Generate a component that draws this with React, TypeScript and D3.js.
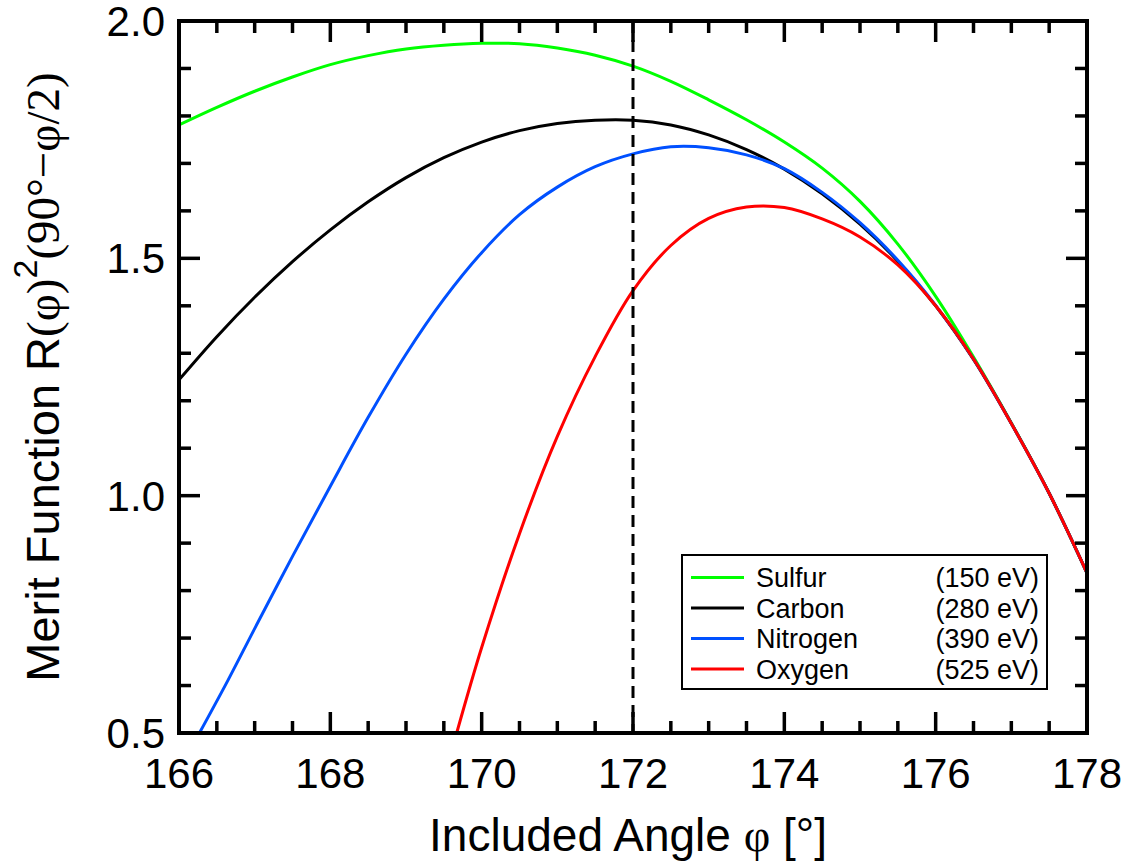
import React from "react";
import * as d3 from "d3";

// Included angle grid (degrees) shared by the Sulfur and Carbon curves
const ANGLE_GRID = [
  166, 166.5, 167, 167.5, 168, 168.5, 169, 169.5, 170, 170.5, 171, 171.5, 172,
  172.5, 173, 173.5, 174, 174.5, 175, 175.5, 176, 176.5, 177, 177.5, 178,
];
const SULFUR = [
  1.781, 1.818, 1.852, 1.882, 1.908, 1.927, 1.941, 1.949, 1.953, 1.952, 1.943,
  1.928, 1.905, 1.873, 1.834, 1.792, 1.745, 1.69, 1.62, 1.53, 1.42, 1.292,
  1.153, 1.005, 0.837,
];
const CARBON = [
  1.244, 1.335, 1.418, 1.493, 1.56, 1.619, 1.67, 1.712, 1.745, 1.769, 1.784,
  1.791, 1.791, 1.781, 1.76, 1.729, 1.688, 1.636, 1.572, 1.494, 1.4, 1.287,
  1.152, 1.005, 0.837,
];
const NITROGEN_ANGLES = [
  166.27, 166.65, 167, 167.5, 168, 168.5, 169, 169.5, 170, 170.5, 171, 171.5,
  172, 172.5, 173, 173.5, 174, 174.5, 175, 175.5, 176, 176.5, 177, 177.5, 178,
];
const NITROGEN = [
  0.5, 0.612, 0.72, 0.872, 1.02, 1.165, 1.298, 1.414, 1.512, 1.592, 1.65,
  1.693, 1.72, 1.735, 1.733, 1.718, 1.689, 1.639, 1.575, 1.496, 1.401, 1.288,
  1.152, 1.005, 0.837,
];
const OXYGEN_ANGLES = [
  169.67, 170, 170.5, 171, 171.5, 172, 172.5, 173, 173.5, 174, 174.5, 175,
  175.5, 176, 176.5, 177, 177.5, 178,
];
const OXYGEN = [
  0.5, 0.68, 0.92, 1.125, 1.293, 1.432, 1.527, 1.584, 1.608, 1.607, 1.583,
  1.545, 1.486, 1.4, 1.288, 1.152, 1.005, 0.837,
];

const SERIES_NAMES = ["Sulfur", "Carbon", "Nitrogen", "Oxygen"];
const SERIES_ENERGIES = ["(150 eV)", "(280 eV)", "(390 eV)", "(525 eV)"];
const SERIES_COLORS = ["#00ff00", "#000000", "#0050ff", "#ff0000"];

const X_TICKS = [166, 168, 170, 172, 174, 176, 178];
const Y_TICKS = [0.5, 1.0, 1.5, 2.0];
const MARKED_ANGLE = 172;

const W = 1134;
const H = 864;
const PLOT = { left: 179, right: 1087, top: 21, bottom: 733 };
const SANS = "'Liberation Sans', Arial, Helvetica, sans-serif";
const SERIF = "'Liberation Serif', 'Times New Roman', serif";

export default function App() {
  const x = d3.scaleLinear().domain([166, 178]).range([PLOT.left, PLOT.right]);
  const y = d3.scaleLinear().domain([0.5, 2.0]).range([PLOT.bottom, PLOT.top]);

  const line = d3
    .line<[number, number]>()
    .x((d) => x(d[0]))
    .y((d) => y(d[1]))
    .curve(d3.curveCatmullRom.alpha(0.5));

  const series = [
    ANGLE_GRID.map((a, i) => [a, SULFUR[i]] as [number, number]),
    ANGLE_GRID.map((a, i) => [a, CARBON[i]] as [number, number]),
    NITROGEN_ANGLES.map((a, i) => [a, NITROGEN[i]] as [number, number]),
    OXYGEN_ANGLES.map((a, i) => [a, OXYGEN[i]] as [number, number]),
  ];

  const xMinor = d3.range(166, 178.0001, 0.5);
  const yMinor = d3.range(0.5, 2.0001, 0.1);
  const isMajorX = (v: number) => Math.abs(v / 2 - Math.round(v / 2)) < 1e-6;
  const isMajorY = (v: number) => Math.abs(v * 2 - Math.round(v * 2)) < 1e-6;
  const MAJ = 21;
  const MIN = 12;

  const legend = { left: 682, top: 555, right: 1047, bottom: 689 };
  const rowY = (i: number) => 577.5 + i * 30.5;

  return (
    <svg
      width={W}
      height={H}
      style={{ position: "absolute", left: 0, top: 0, display: "block", background: "#fff" }}
      fontFamily={SANS}
    >
      <defs>
        <clipPath id="plot-clip">
          <rect
            x={PLOT.left}
            y={PLOT.top}
            width={PLOT.right - PLOT.left}
            height={PLOT.bottom - PLOT.top}
          />
        </clipPath>
      </defs>

      {/* curves */}
      <g clipPath="url(#plot-clip)" fill="none" strokeWidth={3} strokeLinejoin="round">
        {series.map((pts, i) => (
          <path key={i} d={line(pts) || ""} stroke={SERIES_COLORS[i]} />
        ))}
      </g>

      {/* reference angle */}
      <line
        x1={x(MARKED_ANGLE)}
        x2={x(MARKED_ANGLE)}
        y1={PLOT.top}
        y2={PLOT.bottom}
        stroke="#000"
        strokeWidth={3}
        strokeDasharray="12 7"
      />

      {/* ticks on all four sides, pointing inward */}
      <g stroke="#000" strokeWidth={3.5}>
        {xMinor.map((v, i) => {
          const len = isMajorX(v) ? MAJ : MIN;
          return (
            <g key={"xt" + i}>
              <line x1={x(v)} x2={x(v)} y1={PLOT.bottom} y2={PLOT.bottom - len} />
              <line x1={x(v)} x2={x(v)} y1={PLOT.top} y2={PLOT.top + len} />
            </g>
          );
        })}
        {yMinor.map((v, i) => {
          const len = isMajorY(v) ? MAJ : MIN;
          return (
            <g key={"yt" + i}>
              <line x1={PLOT.left} x2={PLOT.left + len} y1={y(v)} y2={y(v)} />
              <line x1={PLOT.right} x2={PLOT.right - len} y1={y(v)} y2={y(v)} />
            </g>
          );
        })}
      </g>

      {/* frame */}
      <rect
        x={PLOT.left}
        y={PLOT.top}
        width={PLOT.right - PLOT.left}
        height={PLOT.bottom - PLOT.top}
        fill="none"
        stroke="#000"
        strokeWidth={4}
      />

      {/* tick labels */}
      <g fontSize={42} fill="#000">
        {X_TICKS.map((v) => (
          <text key={"xl" + v} x={x(v)} y={788} textAnchor="middle">
            {d3.format("d")(v)}
          </text>
        ))}
        {Y_TICKS.map((v) => (
          <text key={"yl" + v} x={165} y={y(v) + 15} textAnchor="end">
            {d3.format(".1f")(v)}
          </text>
        ))}
      </g>

      {/* axis titles */}
      <text x={628} y={851} textAnchor="middle" fontSize={46}>
        <tspan>Included Angle </tspan>
        <tspan fontFamily={SERIF}>φ</tspan>
        <tspan> [°]</tspan>
      </text>
      <text
        transform={`translate(59, ${(PLOT.top + PLOT.bottom) / 2}) rotate(-90)`}
        textAnchor="middle"
        fontSize={47}
      >
        <tspan>Merit Function R</tspan>
        <tspan fontFamily={SERIF}>(φ)</tspan>
        <tspan fontSize={34} dy={-22}>2</tspan>
        <tspan fontFamily={SERIF} dy={22}>(90°−φ/2)</tspan>
      </text>

      {/* legend */}
      <rect
        x={legend.left}
        y={legend.top}
        width={legend.right - legend.left}
        height={legend.bottom - legend.top}
        fill="#fff"
        stroke="#000"
        strokeWidth={2}
      />
      {SERIES_NAMES.map((name, i) => (
        <g key={name}>
          <line
            x1={691}
            x2={744}
            y1={rowY(i)}
            y2={rowY(i)}
            stroke={SERIES_COLORS[i]}
            strokeWidth={3}
          />
          <text x={756} y={rowY(i) + 9.5} fontSize={27}>
            {name}
          </text>
          <text x={1039} y={rowY(i) + 9.5} fontSize={27} textAnchor="end">
            {SERIES_ENERGIES[i]}
          </text>
        </g>
      ))}
    </svg>
  );
}
